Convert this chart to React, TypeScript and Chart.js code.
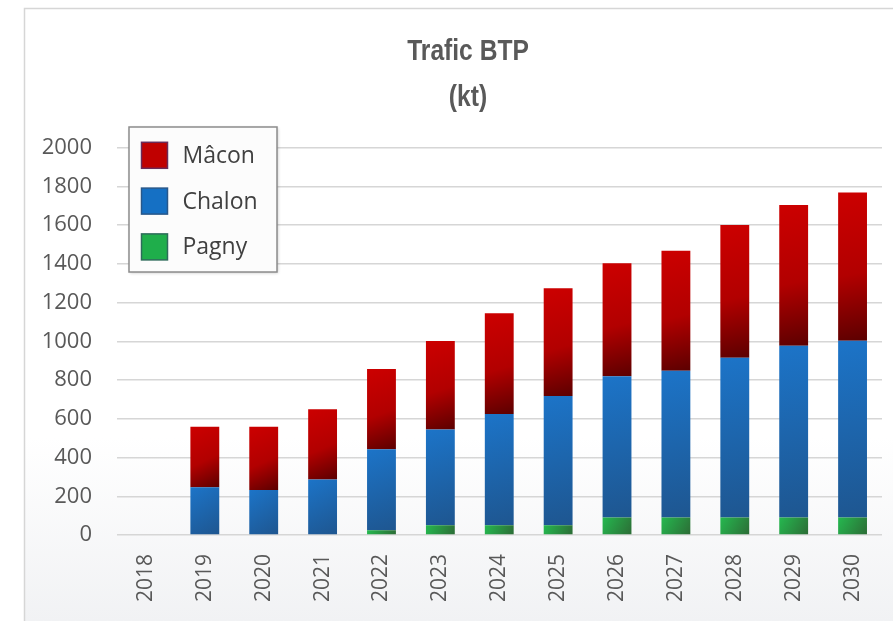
import React, { useEffect, useRef } from 'react';
import { Chart, registerables } from 'chart.js';

Chart.register(...registerables);

// ---- data ----
const years = ['2018', '2019', '2020', '2021', '2022', '2023', '2024', '2025', '2026', '2027', '2028', '2029', '2030'];
const pagny = [0, 0, 0, 0, 25, 50, 50, 50, 90, 90, 90, 90, 90];
const chalon = [0, 246, 232, 287, 417, 495, 574, 667, 730, 758, 825, 887, 913];
const macon = [0, 313, 327, 362, 415, 456, 520, 556, 582, 619, 685, 726, 765];
const titleLines = ['Trafic BTP', '(kt)'];
const yMin = 0;
const yMax = 2000;
const yStep = 200;

// ---- styles ----
const gradStops: Array<Array<[number, string]>> = [
  [[0, '#25b84f'], [1, '#2c6d36']],
  [[0, '#1c74c8'], [1, '#1e5690']],
  [[0, '#cc0000'], [0.55, '#b20000'], [1, '#5c0000']],
];
const swatchBorders = ['#2d6b5a', '#28578a', '#6a2a58'];

const framePlugin = {
  id: 'frameBg',
  beforeDraw(chart: any) {
    const { ctx, width, height } = chart;
    ctx.save();
    ctx.fillStyle = '#ffffff';
    ctx.fillRect(0, 0, width, height);
    const g = ctx.createLinearGradient(0, 8, 0, height);
    g.addColorStop(0, '#ffffff');
    g.addColorStop(0.7, '#ffffff');
    g.addColorStop(1, '#f1f2f4');
    ctx.fillStyle = g;
    ctx.fillRect(24, 8, width, height);
    ctx.strokeStyle = '#d6d6d6';
    ctx.lineWidth = 1.5;
    ctx.beginPath();
    ctx.moveTo(24.5, height + 5);
    ctx.lineTo(24.5, 8.5);
    ctx.lineTo(width + 5, 8.5);
    ctx.stroke();
    ctx.restore();
  },
};

const titlePlugin = {
  id: 'condensedTitle',
  afterDraw(chart: any) {
    const { ctx } = chart;
    ctx.save();
    ctx.fillStyle = '#595959';
    ctx.font = "bold 30px 'Liberation Sans', Arial, sans-serif";
    ctx.textAlign = 'center';
    ctx.textBaseline = 'alphabetic';
    titleLines.forEach((line, i) => {
      ctx.save();
      ctx.translate(468, 60 + i * 46);
      ctx.scale(0.82, 1);
      ctx.fillText(line, 0, 0);
      ctx.restore();
    });
    ctx.restore();
  },
};

const gradientPlugin = {
  id: 'barGradients',
  beforeDatasetsDraw(chart: any) {
    const ctx = chart.ctx;
    chart.data.datasets.forEach((_ds: any, i: number) => {
      const meta = chart.getDatasetMeta(i);
      const stops = gradStops[i];
      meta.data.forEach((el: any) => {
        const { x, y, base, width } = el.getProps(['x', 'y', 'base', 'width'], true);
        const top = Math.min(y, base);
        const bottom = Math.max(y, base);
        if (!isFinite(top) || bottom - top < 0.5) return;
        const g = ctx.createLinearGradient(x - width / 2, top, x + width / 2, bottom);
        stops.forEach(([o, c]) => g.addColorStop(o, c));
        el.options = Object.assign({}, el.options, { backgroundColor: g });
      });
    });
  },
};

const legendPlugin = {
  id: 'boxLegend',
  afterDraw(chart: any) {
    const { ctx, chartArea } = chart;
    const bx = chartArea.left + 12.5;
    const by = chartArea.top - 20.5;
    const bw = 148;
    const bh = 145;
    ctx.save();
    ctx.shadowColor = 'rgba(0,0,0,0.22)';
    ctx.shadowBlur = 3;
    ctx.shadowOffsetX = 1;
    ctx.shadowOffsetY = 1;
    ctx.fillStyle = '#fcfcfc';
    ctx.fillRect(bx, by, bw, bh);
    ctx.shadowColor = 'transparent';
    ctx.strokeStyle = '#8c8c8c';
    ctx.lineWidth = 1.5;
    ctx.strokeRect(bx, by, bw, bh);
    const n = chart.data.datasets.length;
    for (let k = 0; k < n; k++) {
      const di = n - 1 - k;
      const ds = chart.data.datasets[di];
      const cy = by + 28.3 + k * 45.8;
      const sx = bx + 12.5;
      ctx.fillStyle = ds.backgroundColor;
      ctx.fillRect(sx, cy - 13, 26, 26);
      ctx.strokeStyle = swatchBorders[di];
      ctx.lineWidth = 1.5;
      ctx.strokeRect(sx, cy - 13, 26, 26);
      ctx.fillStyle = '#404040';
      ctx.font = "23px 'Open Sans', 'Noto Sans', sans-serif";
      ctx.textBaseline = 'middle';
      ctx.textAlign = 'left';
      ctx.fillText(ds.label, bx + 53.5, cy + 1);
    }
    ctx.restore();
  },
};

export default function App() {
  const ref = useRef<HTMLCanvasElement | null>(null);

  useEffect(() => {
    if (!ref.current) return;
    const chart = new Chart(ref.current, {
      type: 'bar',
      data: {
        labels: years,
        datasets: [
          { label: 'Pagny', data: pagny, backgroundColor: '#1fae4b', borderWidth: 0 },
          { label: 'Chalon', data: chalon, backgroundColor: '#1570c4', borderWidth: 0 },
          { label: 'Mâcon', data: macon, backgroundColor: '#c00000', borderWidth: 0 },
        ],
      },
      plugins: [framePlugin, gradientPlugin, legendPlugin, titlePlugin],
      options: {
        responsive: false,
        animation: false,
        devicePixelRatio: 1,
        layout: { padding: { top: 147.5, left: 36, right: 11, bottom: 0 } },
        datasets: { bar: { barPercentage: 0.49, categoryPercentage: 1 } },
        plugins: {
          legend: { display: false },
          tooltip: { enabled: false },
          title: { display: false },
        },
        scales: {
          x: {
            stacked: true,
            grid: { display: false },
            border: { display: false },
            ticks: {
              autoSkip: false,
              minRotation: 90,
              maxRotation: 90,
              padding: 11,
              color: '#595959',
              font: { family: "'Open Sans', 'Noto Sans', sans-serif", size: 21 },
            },
            afterFit: (s: any) => { s.height = 86; },
          },
          y: {
            stacked: true,
            min: yMin,
            max: yMax,
            grid: { color: '#d6d6d6', lineWidth: 1.5, drawTicks: false },
            border: { display: false },
            ticks: {
              stepSize: yStep,
              padding: 24.5,
              color: '#595959',
              font: { family: "'Open Sans', 'Noto Sans', sans-serif", size: 22 },
              callback: (v: any) => String(v),
            },
            afterFit: (s: any) => { s.width = 80.5; },
          },
        },
      } as any,
    });
    return () => chart.destroy();
  }, []);

  return (
    <div style={{ position: 'fixed', left: 0, top: 0, width: 893, height: 621 }}>
      <canvas ref={ref} width={893} height={621} style={{ width: 893, height: 621, display: 'block' }} />
    </div>
  );
}
